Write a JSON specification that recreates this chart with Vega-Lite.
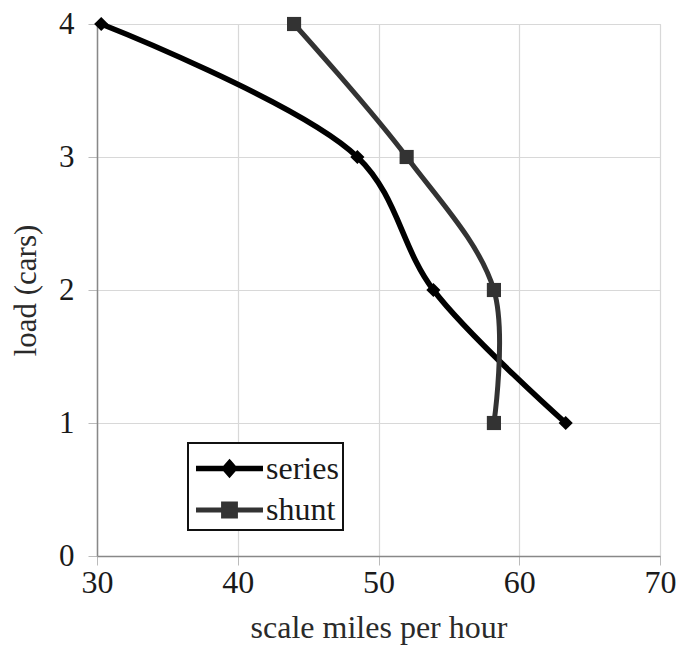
{
  "$schema": "https://vega.github.io/schema/vega-lite/v6.json",
  "width": 563,
  "height": 532,
  "autosize": "none",
  "padding": {"left": 97, "top": 24, "right": 18, "bottom": 109},
  "background": "white",
  "config": {
    "font": "Liberation Serif",
    "view": {"stroke": "#d0d0d0", "strokeWidth": 1}
  },
  "data": {
    "values": [
      {"series": "series", "mph": 30.3, "load": 4, "ord": 1},
      {"series": "series", "mph": 48.5, "load": 3, "ord": 2},
      {"series": "series", "mph": 53.9, "load": 2, "ord": 3},
      {"series": "series", "mph": 63.3, "load": 1, "ord": 4},
      {"series": "shunt", "mph": 44.0, "load": 4, "ord": 1},
      {"series": "shunt", "mph": 52.0, "load": 3, "ord": 2},
      {"series": "shunt", "mph": 58.2, "load": 2, "ord": 3},
      {"series": "shunt", "mph": 58.2, "load": 1, "ord": 4}
    ]
  },
  "encoding": {
    "x": {
      "field": "mph", "type": "quantitative",
      "scale": {"domain": [30, 70], "nice": false, "zero": false},
      "axis": {
        "values": [30, 40, 50, 60, 70], "title": "scale miles per hour",
        "labelFont": "Liberation Serif", "titleFont": "Liberation Serif",
        "labelFontSize": 32, "titleFontSize": 32, "titleFontWeight": "normal",
        "labelColor": "#1a1a1a", "titleColor": "#2a2a2a",
        "labelPadding": 2, "titlePadding": 14, "labelFlush": false,
        "gridColor": "#d8d8d8", "gridWidth": 1.2,
        "domainColor": "#888", "domainWidth": 1.5,
        "tickColor": "#bbb", "tickSize": 9
      }
    },
    "y": {
      "field": "load", "type": "quantitative",
      "scale": {"domain": [0, 4], "nice": false},
      "axis": {
        "values": [0, 1, 2, 3, 4], "title": "load (cars)",
        "labelFont": "Liberation Serif", "titleFont": "Liberation Serif",
        "labelFontSize": 31, "titleFontSize": 31, "titleFontWeight": "normal",
        "labelColor": "#1a1a1a", "titleColor": "#2a2a2a",
        "labelPadding": 14, "titlePadding": 16, "labelFlush": false,
        "gridColor": "#d8d8d8", "gridWidth": 1.2,
        "domainColor": "#888", "domainWidth": 1.5,
        "tickColor": "#bbb", "tickSize": 9
      }
    }
  },
  "layer": [
    {
      "mark": {"type": "line", "interpolate": "catmull-rom"},
      "encoding": {
        "order": {"field": "ord", "type": "quantitative"},
        "strokeWidth": {
          "field": "series", "type": "nominal",
          "scale": {"domain": ["series", "shunt"], "range": [5.6, 5]},
          "legend": null
        },
        "color": {
          "field": "series", "type": "nominal",
          "scale": {"domain": ["series", "shunt"], "range": ["#000000", "#333333"]},
          "legend": {
            "title": null,
            "orient": "none",
            "legendX": 91,
            "legendY": 419,
            "direction": "vertical",
            "strokeColor": "#111",
            "fillColor": "white",
            "padding": 4,
            "symbolSize": 1369,
            "symbolType": "M-1.8,0H1.8",
            "symbolStrokeWidth": 3.5,
            "symbolOffset": 16,
            "labelFont": "Liberation Serif",
            "labelFontSize": 32,
            "labelColor": "#1a1a1a",
            "labelOffset": 15,
            "rowPadding": 3,
            "encode": {
              "symbols": {
                "update": {
                  "shape": {"signal": "datum.value === 'series' ? 'M-1.81,0H1.81M0,-0.3L0.26,0L0,0.3L-0.26,0Z' : 'M-1.81,0H1.81M-0.32,-0.32H0.32V0.32H-0.32Z'"},
                  "fill": {"signal": "datum.value === 'series' ? '#000' : '#333'"},
                  "stroke": {"signal": "datum.value === 'series' ? '#000' : '#333'"},
                  "strokeWidth": {"value": 3.8}
                }
              },
              "legend": {"update": {"strokeWidth": {"value": 2}}}
            }
          }
        }
      }
    },
    {
      "transform": [{"filter": "datum.series === 'series'"}],
      "mark": {"type": "point", "filled": true, "opacity": 1, "shape": "diamond", "size": 200, "color": "#000"}
    },
    {
      "transform": [{"filter": "datum.series === 'shunt'"}],
      "mark": {"type": "point", "filled": true, "opacity": 1, "shape": "square", "size": 200, "color": "#333"}
    }
  ]
}
